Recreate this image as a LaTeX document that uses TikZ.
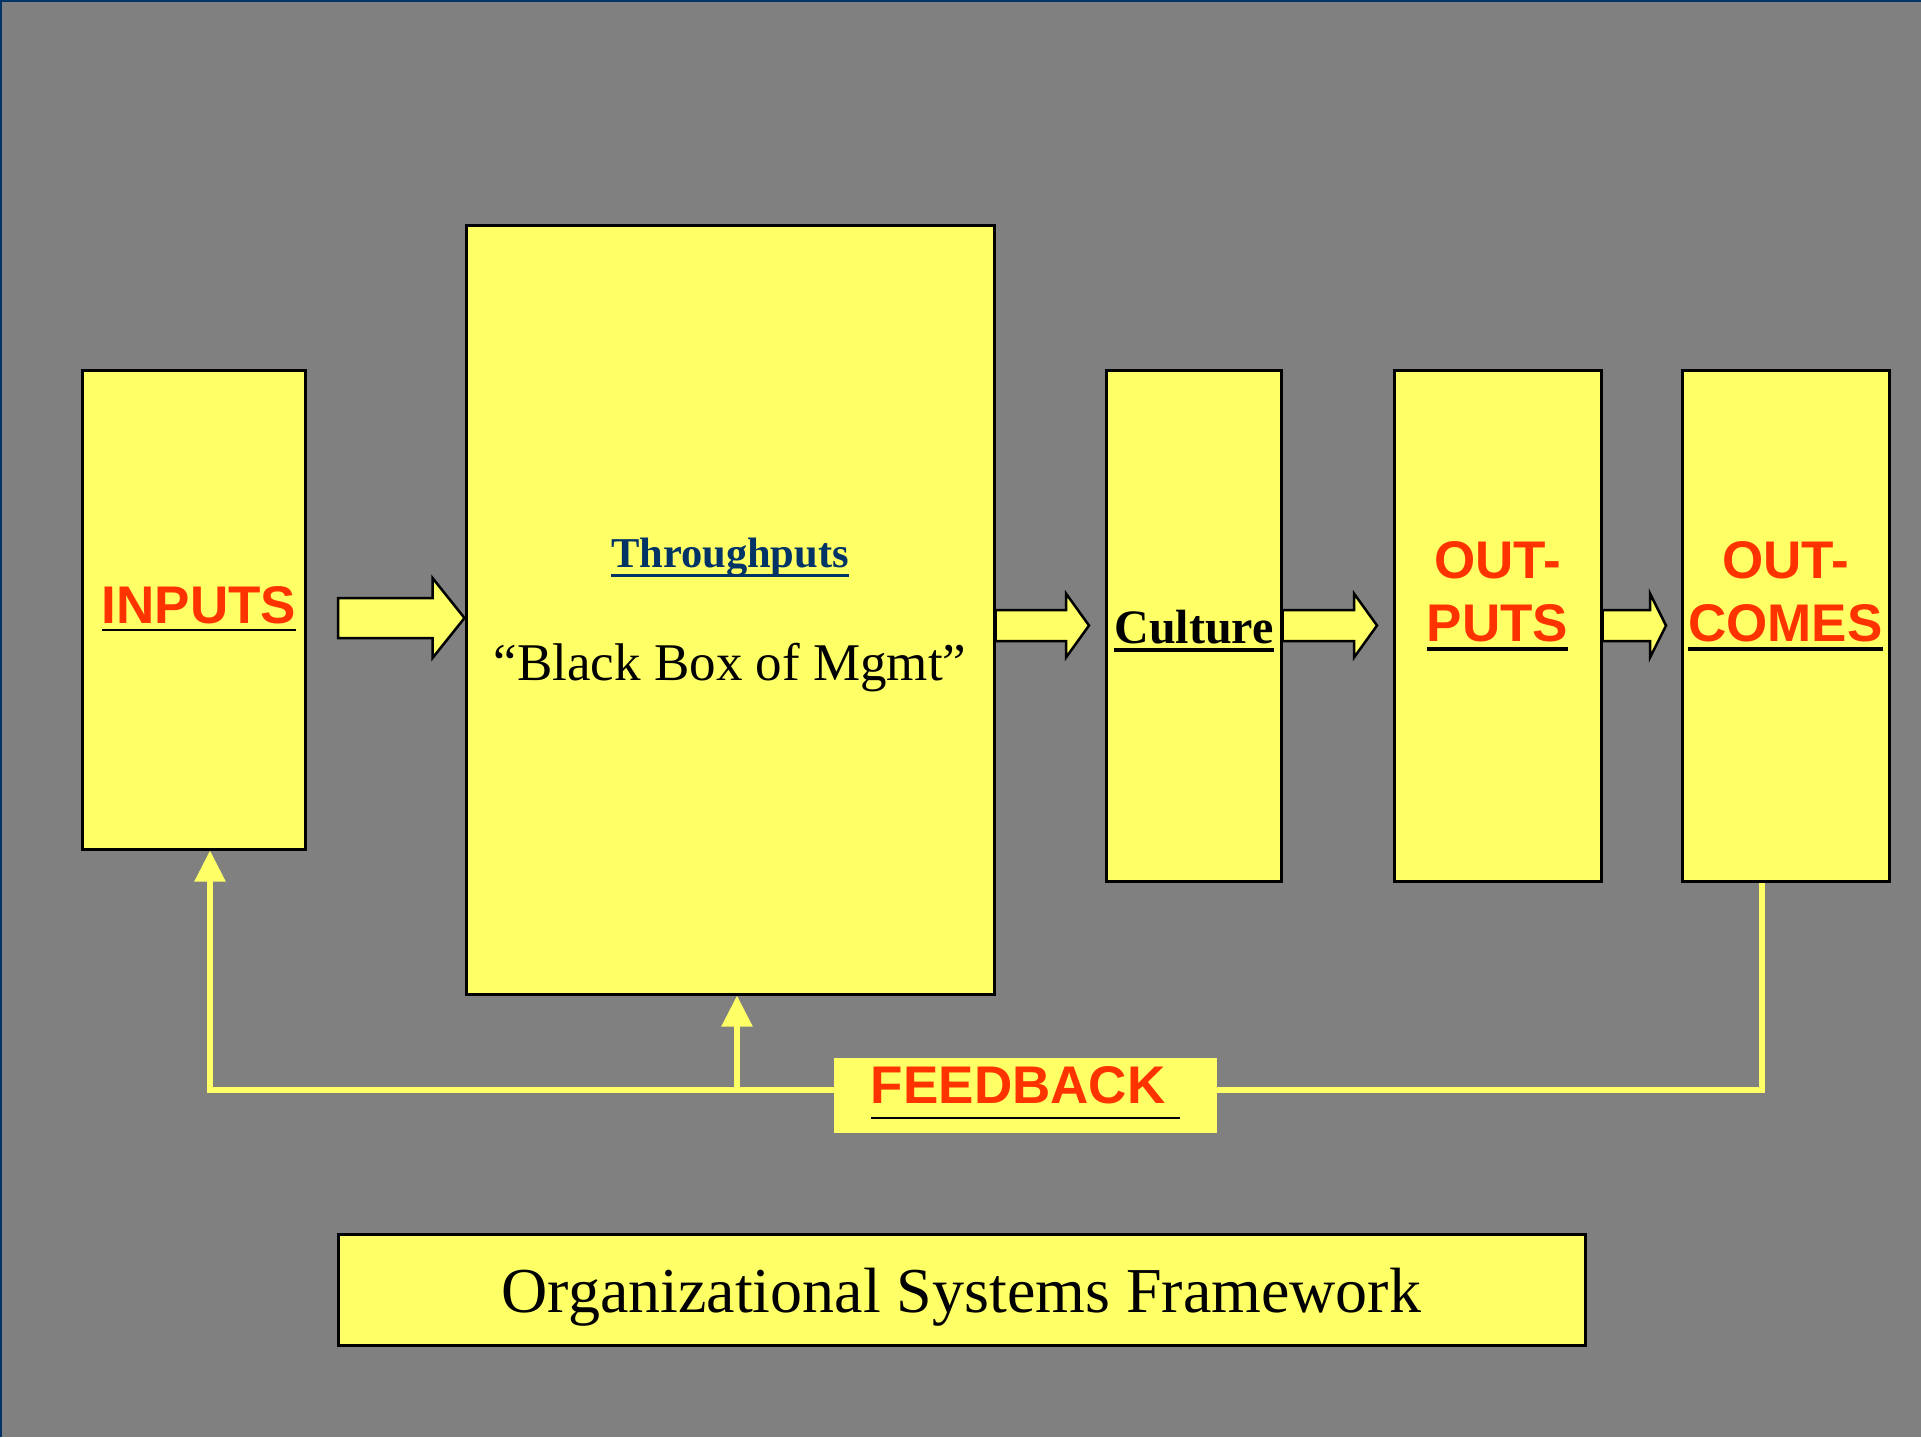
\documentclass[tikz,border=0pt]{standalone}
\usepackage{fontspec}
\setmainfont{Liberation Serif}
\newfontfamily\arialfont{Liberation Sans}
\usetikzlibrary{calc,arrows.meta}

\definecolor{bggray}{RGB}{128,128,128}
\definecolor{boxyellow}{RGB}{255,255,102}
\definecolor{labelred}{RGB}{255,51,0}
\definecolor{navyblue}{RGB}{0,51,102}

% underline: depth of rule bottom, thickness, colour, text
\newcommand{\uline}[4]{\setbox0=\hbox{#4}\rlap{\textcolor{#3}{\rule[-#1]{\wd0}{#2}}}\box0}

\tikzset{every picture/.style={line width=3pt},
  box/.style={draw=black,line width=3pt,fill=boxyellow,inner sep=0pt},
  arrowshape/.style={draw=black,line width=2.5pt,fill=boxyellow,line join=miter},
  fbline/.style={draw=boxyellow,line width=5.5pt,line join=miter},
  fbtip/.style={-{Triangle[length=31pt,width=30pt]}},
  redlabel/.style={text=labelred,font={\arialfont\bfseries\fontsize{53pt}{63pt}\selectfont},align=center,inner sep=0pt},
}

% tail, tip, shaft half height, head half height, head length
\newcommand{\blockarrow}[5]{\draw[arrowshape] ($(#1)+(0,#3)$) -- ($(#2)+(-#5,#3)$) -- ($(#2)+(-#5,#4)$) -- (#2) -- ($(#2)+(-#5,-#4)$) -- ($(#2)+(-#5,-#3)$) -- ($(#1)+(0,-#3)$) -- cycle;}

\begin{document}
\begin{tikzpicture}[x=1pt,y=1pt,yscale=-1,xscale=1]
\useasboundingbox (0,0) rectangle (1921,1437);
\fill[bggray] (0,0) rectangle (1921,1437);
\draw[navyblue,line width=4pt] (0,1437) -- (0,0) -- (1921,0);

%Shape: Rectangle
\node[box,minimum width=223pt,minimum height=479pt] (inputs) at (193.5,609.5) {};
%Shape: Rectangle
\node[box,minimum width=528pt,minimum height=769pt] (through) at (730,609.5) {};
%Shape: Rectangle
\node[box,minimum width=175pt,minimum height=511pt] (culture) at (1193.5,625.5) {};
%Shape: Rectangle
\node[box,minimum width=207pt,minimum height=511pt] (outputs) at (1497.5,625.5) {};
%Shape: Rectangle
\node[box,minimum width=207pt,minimum height=511pt] (outcomes) at (1785.5,625.5) {};

%Shape: Right Arrow
\coordinate (a1tail) at (338,618);
\coordinate (a1tip) at (through.west |- a1tail);
\blockarrow{a1tail}{a1tip}{20}{40}{32}
\coordinate (a2tip) at (1089,625.5);
\blockarrow{through.east |- culture.east}{a2tip}{15.5}{32}{23}
\coordinate (a3tip) at (1377,625.5);
\blockarrow{culture.east}{a3tip}{15.5}{32}{23}
\coordinate (a4tip) at (1666,625.5);
\blockarrow{outputs.east}{a4tip}{15.5}{32}{16}

%Straight Lines
\coordinate (fbL) at (210,1090);
\coordinate (fbM) at (737,1090);
\coordinate (fbR) at (1762,1090);
\draw[fbline,fbtip] (outcomes.south -| fbR) -- (fbR) -- (fbL) -- (inputs.south -| fbL);
\draw[fbline,fbtip] (fbM) -- (through.south -| fbM);

% Text Node
\node[redlabel,anchor=base] (inputslbl) at (199,623) {\uline{8.25pt}{2.5pt}{black}{INPUTS}};
% Text Node
\node[anchor=base,inner sep=0pt,text=navyblue,font={\bfseries\fontsize{42.5pt}{50pt}\selectfont}] (throughlbl) at (730,567) {\uline{9.5pt}{3pt}{navyblue}{Throughputs}};
% Text Node
\node[anchor=base,inner sep=0pt,font={\fontsize{53pt}{60pt}\selectfont}] (blackbox) at (730,680) {“Black Box of Mgmt”};
% Text Node
\node[anchor=base,inner sep=0pt,font={\bfseries\fontsize{48pt}{56pt}\selectfont}] (culturelbl) at (1194,643) {\uline{9pt}{4pt}{black}{Culture}};
% Text Node
\node[redlabel,anchor=base] (outputslbl) at (1497.5,641) {OUT-\\\uline{10pt}{4pt}{black}{PUTS}};
% Text Node
\node[redlabel,anchor=base] (outcomeslbl) at (1785.5,641) {OUT-\\\uline{10pt}{4pt}{black}{COMES}};

% Text Node
\node[fill=boxyellow,inner sep=0pt,minimum width=383pt,text height=45pt,text depth=30pt,text=labelred,font={\arialfont\bfseries\fontsize{53pt}{63pt}\selectfont}] (feedback) at (1025.5,1095.5) {\uline{16.25pt}{2.5pt}{black}{FEEDBACK\ }};
% Text Node
\node[box,minimum width=1247pt,text height=78pt,text depth=33pt,font={\fontsize{64pt}{72pt}\selectfont}] (title) at (961.5,1289.5) {Organizational Systems Framework};

\end{tikzpicture}
\end{document}
